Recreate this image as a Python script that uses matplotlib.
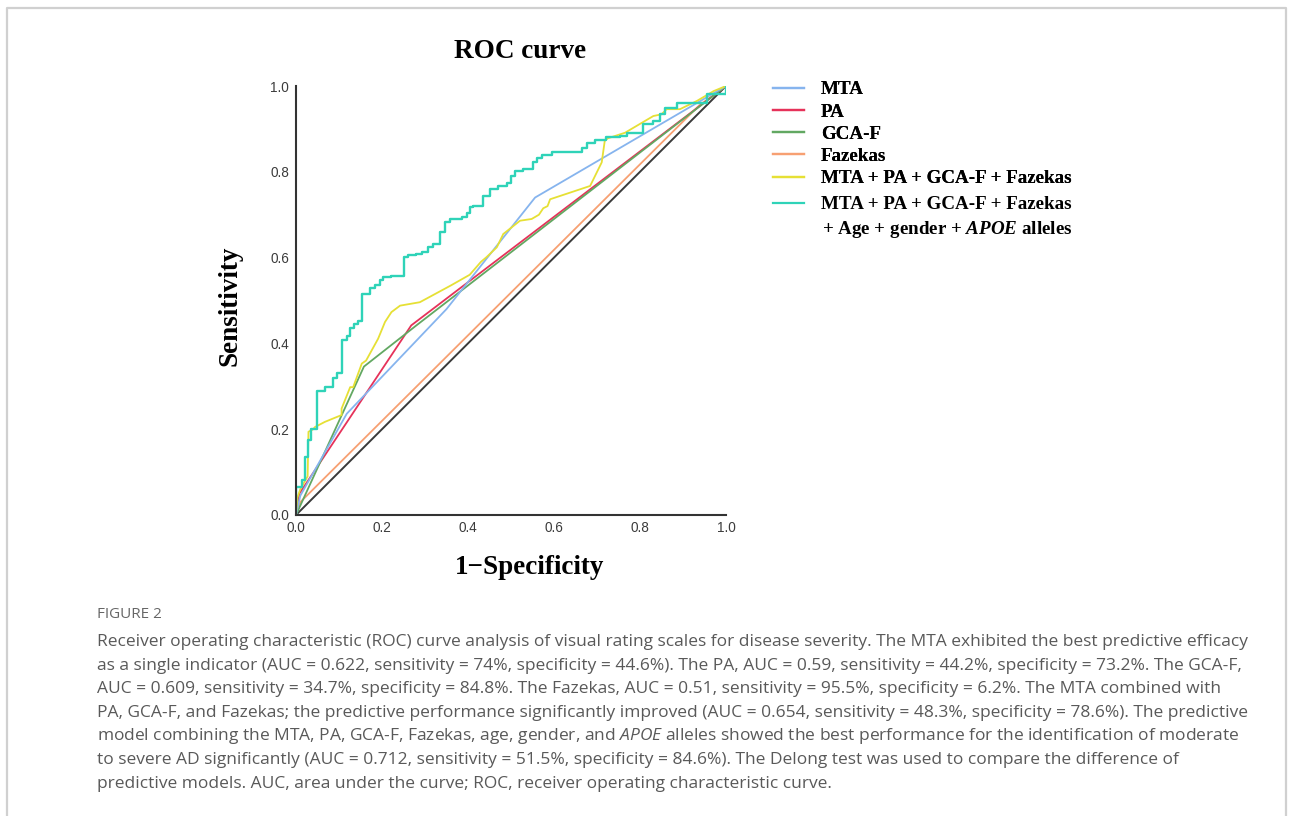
import matplotlib
matplotlib.use("Agg")
import matplotlib.pyplot as plt
from matplotlib.lines import Line2D

plt.rcParams['mathtext.fontset'] = 'custom'
plt.rcParams['mathtext.it'] = 'Open Sans:italic'
plt.rcParams['mathtext.bfit'] = 'Liberation Serif:italic:bold'

# ROC points (1 - specificity, sensitivity)
mta_fpr = [0, 0.01, 0.118, 0.35, 0.556, 1.0]
mta_tpr = [0, 0.045, 0.236, 0.48, 0.74, 1.0]

pa_fpr = [0, 0.008, 0.268, 1.0]
pa_tpr = [0, 0.05, 0.442, 1.0]

gca_fpr = [0, 0.158, 0.28, 1.0]
gca_tpr = [0, 0.346, 0.442, 1.0]

faz_fpr = [0, 0.01, 0.938, 1.0]
faz_tpr = [0, 0.03, 0.955, 1.0]

combo_fpr = [0, 0.003, 0.01, 0.027, 0.029, 0.04, 0.044, 0.067, 0.106, 0.106, 0.126, 0.133,
             0.153, 0.163, 0.191, 0.207, 0.222, 0.242, 0.288, 0.36, 0.404, 0.43, 0.443, 0.467,
             0.482, 0.521, 0.548, 0.565, 0.575, 0.585, 0.591, 0.684, 0.711, 0.718, 0.725,
             0.765, 0.831, 0.85, 0.862, 0.893, 0.932, 0.971, 1.0]
combo_tpr = [0, 0.04, 0.06, 0.09, 0.194, 0.2, 0.205, 0.217, 0.233, 0.248, 0.298, 0.298,
             0.353, 0.36, 0.411, 0.45, 0.473, 0.488, 0.496, 0.535, 0.56, 0.59, 0.601, 0.624,
             0.655, 0.686, 0.69, 0.7, 0.715, 0.72, 0.736, 0.767, 0.822, 0.872, 0.878,
             0.891, 0.93, 0.934, 0.946, 0.946, 0.965, 0.988, 1.0]

full_fpr = [0, 0.013, 0.020, 0.027, 0.035, 0.048, 0.067, 0.087, 0.095, 0.106, 0.118, 0.126,
            0.135, 0.145, 0.153, 0.172, 0.184, 0.195, 0.203, 0.222, 0.250, 0.261, 0.280,
            0.292, 0.308, 0.319, 0.335, 0.346, 0.358, 0.385, 0.397, 0.405, 0.412, 0.434,
            0.451, 0.470, 0.490, 0.501, 0.509, 0.529, 0.552, 0.560, 0.571, 0.595, 0.665,
            0.676, 0.695, 0.722, 0.753, 0.769, 0.808, 0.831, 0.847, 0.859, 0.885, 0.955,
            1.0, 1.0]
full_tpr = [0, 0.066, 0.081, 0.135, 0.175, 0.200, 0.288, 0.298, 0.320, 0.332, 0.407, 0.417,
            0.437, 0.446, 0.453, 0.516, 0.529, 0.537, 0.547, 0.554, 0.558, 0.601, 0.605,
            0.609, 0.612, 0.624, 0.632, 0.659, 0.682, 0.690, 0.695, 0.705, 0.717, 0.721,
            0.744, 0.759, 0.767, 0.775, 0.791, 0.802, 0.806, 0.822, 0.833, 0.840, 0.847,
            0.855, 0.866, 0.874, 0.882, 0.884, 0.891, 0.911, 0.919, 0.934, 0.949, 0.961,
            0.981, 1.0]

ref_line = [0, 1]
ticks = [0.0, 0.2, 0.4, 0.6, 0.8, 1.0]

labels = ['MTA', 'PA', 'GCA-F', 'Fazekas', 'MTA + PA + GCA-F + Fazekas',
          'MTA + PA + GCA-F + Fazekas']
label_extra = '+ Age + gender + $\\mathbfit{APOE}$ alleles'
colors = ['#86b4ee', '#e6325a', '#62a862', '#f7a072', '#e6e035', '#2fd3b8']

caption_lines = [
    "Receiver operating characteristic (ROC) curve analysis of visual rating scales for disease severity. The MTA exhibited the best predictive efficacy",
    "as a single indicator (AUC = 0.622, sensitivity = 74%, specificity = 44.6%). The PA, AUC = 0.59, sensitivity = 44.2%, specificity = 73.2%. The GCA-F,",
    "AUC = 0.609, sensitivity = 34.7%, specificity = 84.8%. The Fazekas, AUC = 0.51, sensitivity = 95.5%, specificity = 6.2%. The MTA combined with",
    "PA, GCA-F, and Fazekas; the predictive performance significantly improved (AUC = 0.654, sensitivity = 48.3%, specificity = 78.6%). The predictive",
    "model combining the MTA, PA, GCA-F, Fazekas, age, gender, and $\\mathit{APOE}$ alleles showed the best performance for the identification of moderate",
    "to severe AD significantly (AUC = 0.712, sensitivity = 51.5%, specificity = 84.6%). The Delong test was used to compare the difference of",
    "predictive models. AUC, area under the curve; ROC, receiver operating characteristic curve.",
]

W, H = 1293, 816
fig = plt.figure(figsize=(W / 100, H / 100), dpi=100)
fig.patch.set_facecolor('white')

# light frame around the figure panel
fig.add_artist(Line2D([7 / W, 7 / W, 1286 / W, 1286 / W], [0, 1 - 8 / H, 1 - 8 / H, 0],
                      transform=fig.transFigure, color='#d0d0d0', lw=1.6))

ax = fig.add_axes([296 / W, 1 - 515 / H, 430 / W, 429 / H])

ax.plot(ref_line, ref_line, color='#3a3a3a', lw=1.4)
ax.plot(faz_fpr, faz_tpr, color=colors[3], lw=1.3)
ax.plot(pa_fpr, pa_tpr, color=colors[1], lw=1.3)
ax.plot(gca_fpr, gca_tpr, color=colors[2], lw=1.3)
ax.plot(mta_fpr, mta_tpr, color=colors[0], lw=1.3)
ax.plot(combo_fpr, combo_tpr, color=colors[4], lw=1.3)
ax.plot(full_fpr, full_tpr, color=colors[5], lw=1.7, drawstyle='steps-pre')

ax.set_xlim(0, 1)
ax.set_ylim(0, 1)
ax.set_xticks(ticks)
ax.set_yticks(ticks)
ax.set_xticklabels([f'{t:.1f}' for t in ticks])
ax.set_yticklabels([f'{t:.1f}' for t in ticks])
ax.tick_params(length=0, labelsize=9.8, labelcolor='#3c3c3c')
ax.tick_params(axis='y', pad=5)
ax.tick_params(axis='x', pad=4)
for lab in ax.get_xticklabels() + ax.get_yticklabels():
    lab.set_fontfamily('Liberation Sans')
for s in ['top', 'right']:
    ax.spines[s].set_visible(False)
for s in ['left', 'bottom']:
    ax.spines[s].set_color('#333333')
    ax.spines[s].set_linewidth(1.5)

serif = dict(family='Liberation Serif', weight='bold', color='black')
fig.text(520 / W, 1 - 52 / H, 'ROC curve', ha='center', va='center', fontsize=19.5, **serif)
fig.text(230 / W, 1 - 306 / H, 'Sensitivity', ha='center', va='center', rotation=90,
         fontsize=19.5, **serif)
fig.text(530 / W, 1 - 567 / H, '1\u2212Specificity', ha='center', va='center',
         fontsize=19.5, **serif)

# legend: first five entries, then the two-line combined model entry
leg_prop = dict(family='Liberation Serif', weight='bold', size=13.7)
leg_kw = dict(loc='upper left', frameon=False, borderpad=0, borderaxespad=0,
              handlelength=1.62, handletextpad=0.9, labelspacing=0.26, prop=leg_prop)
handles = [Line2D([], [], color=c, lw=1.6) for c in colors]
leg1 = fig.legend(handles[:5], labels[:5], bbox_to_anchor=(773 / W, 1 - 81 / H), **leg_kw)
fig.legend(handles[5:], labels[5:], bbox_to_anchor=(773 / W, 1 - 196 / H), **leg_kw)
fig.add_artist(leg1)
fig.text(822 / W, 1 - 229 / H, label_extra, ha='left', va='center', **serif, fontsize=13.7)

cap_color = '#595959'
fig.text(97 / W, 1 - 615 / H, 'FIGURE 2', ha='left', va='center', fontsize=11,
         family='Open Sans', color='#666666')
for i, line in enumerate(caption_lines):
    fig.text(97 / W, 1 - (642 + 23.6 * i) / H, line, ha='left', va='center',
             fontsize=12.5, family='Open Sans', color=cap_color)

fig.savefig('out.png', dpi=100, facecolor='white')
